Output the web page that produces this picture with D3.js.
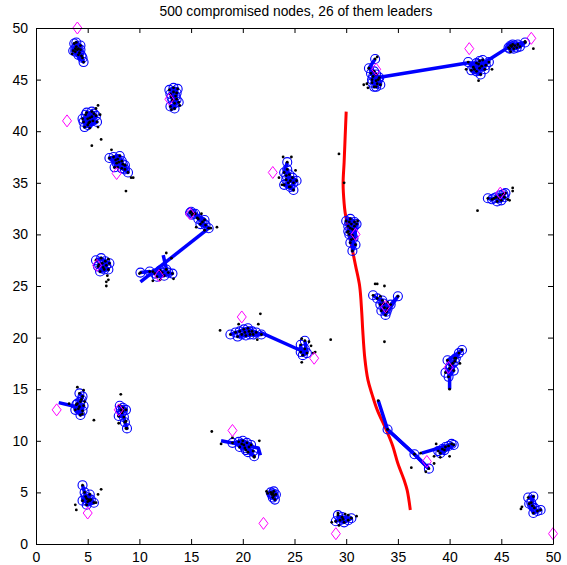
<!DOCTYPE html>
<html>
<head>
<meta charset="utf-8">
<script src="https://cdn.jsdelivr.net/npm/d3@7"></script>
<style>
  body { margin: 0; background: #fff; }
  svg { display: block; font-family: "Liberation Sans", Arial, sans-serif; }
</style>
</head>
<body>
<svg id="chart" width="567" height="565"></svg>
<script>
// --- data (data units 0..50) ---

var title = '500 compromised nodes, 26 of them leaders';
var xTicks = [0, 5, 10, 15, 20, 25, 30, 35, 40, 45, 50];
var yTicks = [0, 5, 10, 15, 20, 25, 30, 35, 40, 45, 50];

// circled (tracked) nodes, one list per cluster
var clusters = [
  [[3.7,48.5],[3.9,48.2],[4.1,48.0],[3.8,47.7],[4.2,47.6],[4.4,47.3],[4.0,47.9],[4.6,46.7],[3.6,47.8],[4.3,48.3],
   [3.9,48.6],[4.1,47.4],[4.3,47.9],[3.8,48.0],[4.5,47.1]],
  [[4.8,41.6],[5.2,41.3],[5.5,41.0],[4.6,40.9],[5.0,40.6],[5.8,41.5],[5.4,41.9],[4.7,40.4],[5.9,40.9],[5.2,40.9],
   [5.0,41.2],[5.4,41.4],[4.9,41.8],[5.6,41.7],[5.1,40.8],[4.5,41.2]],
  [[7.5,37.5],[7.9,37.3],[8.3,37.1],[7.8,36.9],[8.6,36.7],[8.9,36.0],[8.3,36.4],[7.1,37.4],[8.1,37.6],[7.6,36.5],
   [8.0,37.0],[8.4,36.8],[7.7,37.2],[8.6,36.3]],
  [[12.9,44.0],[13.3,44.2],[13.7,44.1],[13.0,43.6],[13.5,43.4],[13.2,43.0],[13.8,42.8],[13.0,42.4],[13.4,42.2],[13.6,43.7],
   [13.3,43.8],[13.4,42.7],[13.1,43.3],[13.6,43.1]],
  [[24.3,37.0],[24.0,36.0],[24.5,35.8],[24.2,35.3],[24.8,35.5],[25.2,35.2],[24.6,34.6],[24.9,34.3],[24.0,34.8],[24.4,35.0],
   [24.3,36.3],[24.6,35.2],[24.9,35.0],[24.2,35.7]],
  [[32.8,47.0],[32.2,46.1],[32.9,45.5],[32.5,45.0],[33.0,44.6],[32.7,44.3],[33.2,45.2],[32.4,45.6],[33.3,44.5],[32.9,44.9],
   [32.6,45.3],[32.9,44.3],[33.1,45.0],[32.5,44.7],[32.7,45.8]],
  [[41.8,46.7],[42.3,46.2],[42.8,46.5],[43.2,46.9],[43.5,46.4],[42.6,45.8],[43.0,45.5],[42.1,45.9],[43.8,46.7],[42.9,46.1],
   [42.6,46.6],[43.1,46.3],[42.4,46.0],[43.4,46.0],[42.9,46.8]],
  [[45.7,48.1],[46.0,48.2],[46.3,48.3],[46.6,48.4],[46.2,48.0],[46.8,48.2],[47.3,48.6],[45.9,48.3],
   [46.1,48.4],[46.5,48.1],[45.8,48.0]],
  [[30.0,31.3],[30.4,31.5],[30.8,31.2],[30.2,30.8],[30.6,30.5],[30.3,30.0],[30.7,29.6],[30.4,29.2],[30.9,29.0],[30.6,28.4],[31.0,31.0],[30.2,30.3],
   [30.5,31.0],[30.4,30.6],[30.6,29.9],[30.8,30.8],[30.3,31.2]],
  [[43.7,33.5],[44.1,33.4],[44.5,33.6],[44.9,33.8],[45.3,33.6],[45.0,33.3],[44.6,33.2],[45.4,34.0],
   [44.3,33.5],[44.8,33.5],[45.2,33.9]],
  [[14.9,32.1],[15.1,31.9],[15.4,32.0],[15.7,31.5],[16.1,31.2],[16.4,30.9],[16.7,30.6],[15.9,31.0],[16.3,31.4],
   [15.0,32.2],[15.2,32.0]],
  [[10.1,26.3],[11.0,26.4],[11.5,26.2],[12.0,26.5],[12.4,26.0],[12.8,26.3],[13.2,26.2],[11.7,25.9],
   [12.2,26.3],[12.6,26.6]],
  [[5.8,27.5],[6.3,27.7],[6.7,27.4],[7.1,27.2],[6.0,26.9],[6.5,26.8],[7.0,26.6],[6.2,26.4],[6.8,27.0],
   [6.4,27.2],[6.6,26.6],[6.1,27.1]],
  [[18.8,20.3],[19.3,20.5],[19.7,20.6],[20.1,20.8],[20.5,20.9],[20.9,20.6],[21.3,20.5],[21.8,20.3],[20.3,20.2],[19.5,20.1],[20.7,20.3],
   [20.2,20.5],[20.6,20.6],[21.0,20.3],[19.9,20.3]],
  [[25.6,19.3],[25.6,18.6],[26.0,18.9],[25.8,18.3],[26.2,18.5],[26.0,19.7]],
  [[32.6,24.1],[33.0,23.8],[33.5,23.6],[33.3,23.2],[33.7,22.9],[33.9,22.5],[34.3,23.2],[35.0,24.0],[33.8,22.2],[33.4,22.6],
   [33.6,23.3],[34.0,22.8]],
  [[39.6,16.6],[40.0,17.0],[40.3,17.5],[40.6,18.0],[40.9,18.5],[41.2,18.8],[39.8,17.8],[40.4,16.8],[39.9,16.2],
   [40.1,17.3],[40.5,17.7]],
  [[34.0,11.1],[36.6,8.7],[38.0,7.3]],
  [[38.9,9.0],[39.3,9.2],[39.6,9.4],[39.9,9.5],[40.2,9.7],[40.4,9.6],[39.1,8.8],[39.5,9.1]],
  [[4.2,14.6],[4.5,14.3],[4.3,13.8],[3.9,13.5],[4.1,13.1],[4.5,12.9],[3.8,13.0],[4.3,12.5],[4.6,13.4],
   [4.2,13.3],[4.0,13.6],[4.4,14.0]],
  [[8.1,13.4],[8.4,13.2],[8.7,13.0],[8.3,12.7],[8.0,12.4],[8.5,12.3],[8.6,11.8],[8.8,11.2],
   [8.2,13.0],[8.4,12.9]],
  [[19.0,9.8],[19.6,9.9],[20.0,10.0],[20.4,9.8],[20.8,9.6],[20.2,9.3],[19.7,9.4],[21.0,9.0],[20.5,8.9],[21.1,8.5],
   [20.1,9.6],[20.6,9.4],[19.9,9.7],[20.3,9.1]],
  [[22.7,5.0],[23.0,5.1],[23.2,4.8],[22.9,4.5],[23.1,4.3],[22.8,4.8],[23.0,4.7],[22.9,4.9]],
  [[4.5,5.7],[4.7,5.0],[4.8,4.6],[4.5,4.2],[5.0,4.1],[5.3,4.3],[5.6,4.0],[4.9,3.8],[5.2,4.8],
   [4.9,4.4],[5.1,4.3]],
  [[29.2,2.8],[29.4,2.3],[29.8,2.1],[30.2,2.3],[30.5,2.5],[29.6,2.6],[29.0,2.2],[29.7,2.4]],
  [[47.6,4.5],[48.1,4.6],[47.9,4.0],[48.2,3.5],[48.5,3.2],[48.8,3.3],[48.1,3.0],[47.7,3.9],[48.0,3.7]]
];

// untracked nodes (black dots only)
var strays = [
  [3.5,47.5],
  [6.0,42.5],[5.8,42.2],[6.2,41.6],[5.2,40.3],[6.0,40.4],[6.3,39.2],[5.4,38.6],
  [7.3,38.2],[9.2,35.5],[9.4,35.5],[8.7,34.2],[7.9,36.5],
  [13.9,42.5],[13.1,42.1],
  [23.9,37.5],[24.7,37.5],[23.5,35.5],[23.8,34.8],[25.1,36.2],
  [31.7,44.5],[32.0,44.6],[32.1,44.2],[33.0,47.2],
  [42.8,44.9],[44.1,46.0],[41.6,46.0],
  [45.9,47.7],[48.1,48.0],[47.3,48.7],
  [31.1,31.3],[30.1,30.2],[30.5,29.5],[29.3,37.8],[29.8,35.0],
  [46.1,34.2],[46.1,34.5],[45.6,33.4],[45.8,33.3],[42.7,32.3],
  [15.6,31.6],[16.3,30.4],[16.9,30.6],[17.5,30.7],[15.5,30.7],[16.0,32.0],[24.5,34.6],
  [10.0,26.2],[11.3,26.4],[12.6,28.2],[13.1,27.7],[13.3,25.7],[12.0,25.6],[11.3,25.5],
  [6.9,26.0],[7.0,25.6],[6.8,25.4],[6.8,25.0],[7.0,27.6],
  [19.6,21.3],[21.5,21.3],[21.7,22.3],[17.8,20.7],[21.4,19.8],
  [25.7,19.9],[26.4,19.6],[26.6,19.2],[26.8,18.5],[27.0,18.6],[25.7,17.6],[28.5,19.8],
  [32.8,25.2],[33.0,25.2],[33.7,25.0],[33.3,24.0],[34.0,23.4],[33.7,19.6],
  [40.0,15.0],[40.5,18.0],[41.0,17.5],
  [37.2,8.8],[36.3,7.4],[37.7,7.0],[38.5,8.5],[38.5,7.8],[39.1,8.4],[40.0,8.5],[38.7,9.7],[33.1,13.9],
  [4.0,15.2],[4.6,14.9],[4.7,13.8],[5.6,12.0],[4.5,12.6],[3.2,13.6],
  [8.2,14.5],[8.0,11.7],[8.7,11.9],[8.7,11.2],
  [17.0,10.9],[17.9,9.7],[19.0,10.3],[21.6,10.0],[21.1,8.4],
  [22.3,5.1],[22.4,4.9],
  [3.8,3.8],[3.9,3.3],[6.0,4.8],[6.3,5.3],[5.2,4.2],[5.8,4.0],
  [28.6,2.1],[29.2,3.0],[29.9,2.9],[30.2,2.8],[31.0,2.7],[29.3,1.8],
  [46.9,3.4],[47.0,3.6]
];

// leaders (magenta diamonds)
var leaders = [
  [4,50],[3,41],[7.8,35.9],[12.9,43.1],[22.9,36],[32.9,46],[41.9,48],[47.9,49],
  [30.9,30],[44.9,34],[14.9,32],[11.9,26],[5.9,27],[19.9,22],[26.9,18],[33.8,23],
  [39.9,17.1],[37.8,8],[2,13],[8,13],[19,11],[22,2],[5,3],[29,1],[50,1]
];

// movement tracks between / inside clusters (thick blue)
var tracks = [
  [[33.1,45.2],[41.7,46.6],[43.3,46.6],[46.1,48.4],[47.1,48.5]],
  [[16.6,30.5],[10.1,25.4]],
  [[12.3,28.0],[12.7,26.3]],
  [[21.7,20.5],[25.5,18.8]],
  [[40.0,16.8],[40.0,15.0]],
  [[33.1,13.9],[34.0,11.1],[36.6,8.7],[38.0,7.3]],
  [[37.3,8.8],[40.0,9.6]],
  [[2.2,13.7],[3.9,13.3]],
  [[17.9,10.0],[21.5,9.3],[21.7,8.6]]
];

// attacker path (red)
var redPath = [
  [30.0,41.9],[29.9,39.5],[29.8,37.0],[29.7,34.9],[29.8,33.0],[29.9,32.1],[30.4,29.5],
  [30.9,27.0],[31.3,25.0],[31.5,22.5],[31.6,20.7],[31.8,18.0],[32.1,15.9],[32.5,14.5],
  [33.0,13.0],[33.9,11.0],[34.5,9.5],[35.0,7.8],[35.6,6.2],[35.9,5.2],[36.2,3.3]
];

// --- drawing ---

var svg = d3.select('#chart');
var x = d3.scaleLinear().domain([0, 50]).range([36, 553]);
var y = d3.scaleLinear().domain([0, 50]).range([544, 28]);

var line = d3.line().x(function (d) { return x(d[0]); }).y(function (d) { return y(d[1]); });

svg.append('text')
  .attr('x', 296).attr('y', 16)
  .attr('text-anchor', 'middle')
  .style('font-size', '13.8px')
  .text(title);

var plot = svg.append('g');

plot.append('path')
  .attr('d', line.curve(d3.curveCatmullRom)(redPath))
  .attr('fill', 'none').attr('stroke', '#ff0000').attr('stroke-width', 3);
line.curve(d3.curveLinear);

plot.selectAll('path.track')
  .data(tracks.concat(clusters))
  .enter().append('path')
  .attr('class', 'track')
  .attr('d', line)
  .attr('fill', 'none').attr('stroke', '#0000ff').attr('stroke-width', 3.5)
  .attr('stroke-linejoin', 'round');

var tracked = d3.merge(clusters);

plot.selectAll('circle.node')
  .data(tracked)
  .enter().append('circle')
  .attr('class', 'node')
  .attr('cx', function (d) { return x(d[0]); })
  .attr('cy', function (d) { return y(d[1]); })
  .attr('r', 4.5)
  .attr('fill', 'none').attr('stroke', '#0000ff').attr('stroke-width', 1.1);

plot.selectAll('circle.dot')
  .data(tracked.concat(strays))
  .enter().append('circle')
  .attr('class', 'dot')
  .attr('cx', function (d) { return x(d[0]); })
  .attr('cy', function (d) { return y(d[1]); })
  .attr('r', 1.4)
  .attr('fill', '#000');

plot.selectAll('path.leader')
  .data(leaders)
  .enter().append('path')
  .attr('class', 'leader')
  .attr('transform', function (d) { return 'translate(' + x(d[0]) + ',' + y(d[1]) + ')'; })
  .attr('d', 'M0,-6L4.5,0L0,6L-4.5,0Z')
  .attr('fill', 'none').attr('stroke', '#ff00ff').attr('stroke-width', 1);

// axes: MATLAB-style box with inward ticks on all sides
var axes = svg.append('g');
axes.append('g')
  .attr('transform', 'translate(0,544)')
  .call(d3.axisBottom(x).tickValues(xTicks).tickSizeInner(-5).tickSizeOuter(0).tickPadding(8));
axes.append('g')
  .attr('transform', 'translate(36,0)')
  .call(d3.axisLeft(y).tickValues(yTicks).tickSizeInner(-5).tickSizeOuter(0).tickPadding(8));
axes.append('g')
  .attr('transform', 'translate(0,28)')
  .call(d3.axisTop(x).tickValues(xTicks).tickSizeInner(-5).tickSizeOuter(0).tickFormat(''));
axes.append('g')
  .attr('transform', 'translate(553,0)')
  .call(d3.axisRight(y).tickValues(yTicks).tickSizeInner(-5).tickSizeOuter(0).tickFormat(''));

axes.selectAll('.domain').attr('stroke', '#000');
axes.selectAll('.tick line').attr('stroke', '#000');
axes.selectAll('.tick text')
  .style('font-size', '14px')
  .style('font-family', '"Liberation Sans", Arial, sans-serif')
  .attr('fill', '#000');
</script>
</body>
</html>
